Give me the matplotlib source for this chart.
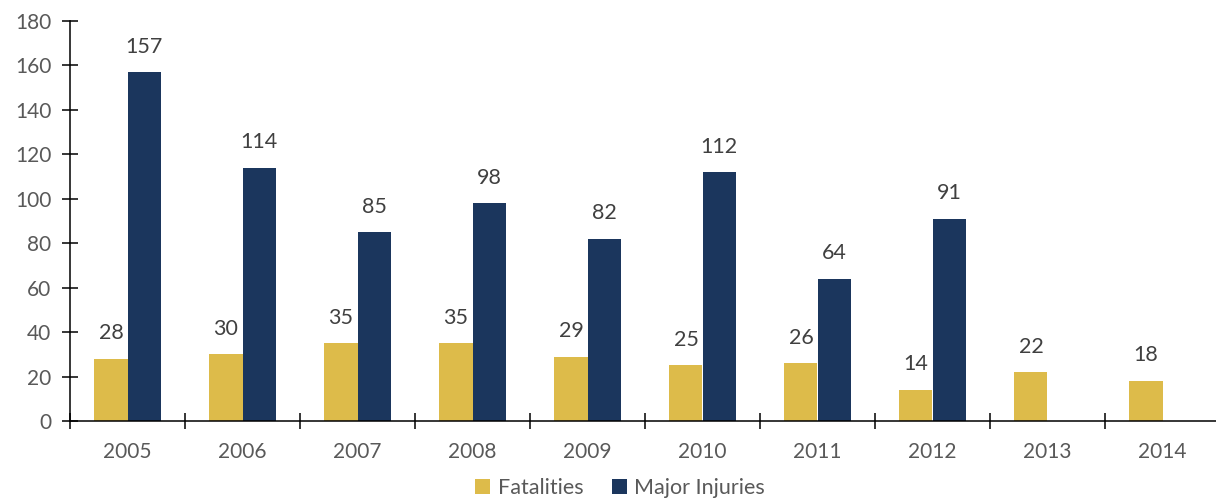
import matplotlib
matplotlib.use("Agg")
import matplotlib.pyplot as plt
import numpy as np
from matplotlib.patches import Patch

years = ["2005", "2006", "2007", "2008", "2009", "2010", "2011", "2012", "2013", "2014"]
fatalities = [28, 30, 35, 35, 29, 25, 26, 14, 22, 18]
major_injuries = [157, 114, 85, 98, 82, 112, 64, 91, None, None]

GOLD = "#DDBB4A"
NAVY = "#1B365D"
TICK_COLOR = "#595959"
LABEL_COLOR = "#404040"

plt.rcParams['font.family'] = ['Lato', 'DejaVu Sans']

fig = plt.figure(figsize=(12.16, 4.98), dpi=100)
ax = fig.add_axes([70/1216, 77/498, 1150/1216, 400/498])

x = np.arange(len(years))
w = 0.287

for i, v in enumerate(fatalities):
    ax.bar(x[i] - w/2, v, width=w, color=GOLD, linewidth=0)
    ax.text(x[i] - w/2, v + 7.0, str(v), ha='center', va='bottom', fontsize=15.5, color=LABEL_COLOR)
for i, v in enumerate(major_injuries):
    if v is None:
        continue
    ax.bar(x[i] + w/2, v, width=w, color=NAVY, linewidth=0)
    ax.text(x[i] + w/2, v + 7.0, str(v), ha='center', va='bottom', fontsize=15.5, color=LABEL_COLOR)

ax.set_xlim(-0.5, len(years) - 0.5)
ax.set_ylim(0, 180)
ax.set_yticks(range(0, 181, 20))
ax.set_xticks(x)
ax.set_xticklabels(years)
ax.set_xticks(np.arange(-0.5, len(years), 1.0), minor=True)

for s in ['top', 'right']:
    ax.spines[s].set_visible(False)
for s in ['left', 'bottom']:
    ax.spines[s].set_linewidth(1.1)
    ax.spines[s].set_color('black')

ax.tick_params(axis='y', direction='inout', length=11, width=1.1, color='black',
               labelsize=15, labelcolor=TICK_COLOR, pad=8)
ax.tick_params(axis='x', which='major', length=0, labelsize=15, labelcolor=TICK_COLOR, pad=15)
ax.tick_params(axis='x', which='minor', direction='inout', length=11, width=1.1, color='black')

handles = [Patch(facecolor=GOLD, label='Fatalities'), Patch(facecolor=NAVY, label='Major Injuries')]
leg = fig.legend(handles=handles, loc='center', bbox_to_anchor=(0.51, 0.02), ncol=2, frameon=False,
                 fontsize=15.5, handlelength=0.7, handleheight=0.7, handletextpad=0.35, columnspacing=1.3)
for t in leg.get_texts():
    t.set_color(TICK_COLOR)

fig.savefig("out.png", dpi=100)
